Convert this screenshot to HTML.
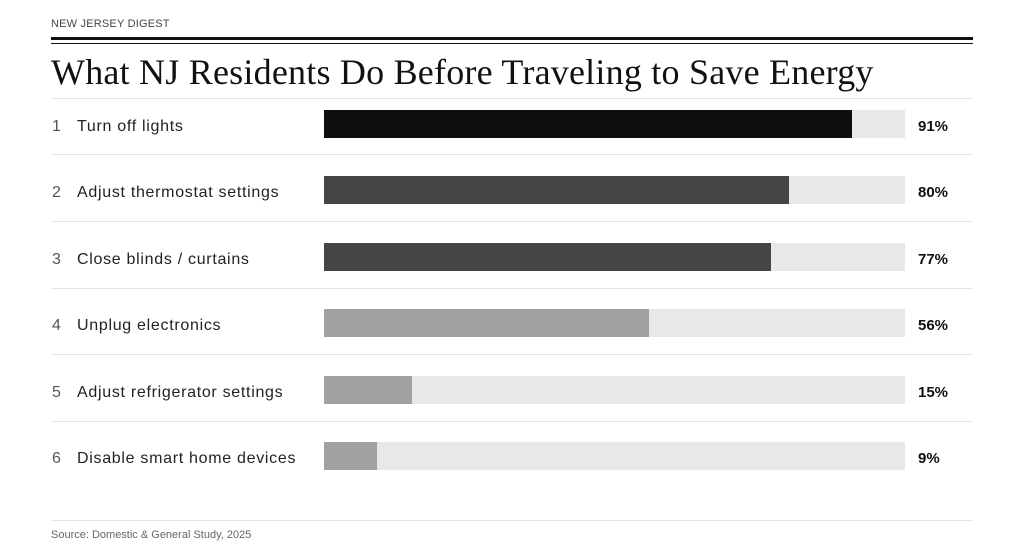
<!DOCTYPE html>
<html><head><meta charset="utf-8"><style>
body{margin:0;width:1024px;height:555px;background:#fff;position:relative;font-family:"Liberation Sans",sans-serif;overflow:hidden}
.a{position:absolute}
.hr{position:absolute;left:51px;width:922px;height:1px;background:#e4e4e4}
.num{position:absolute;left:52px;font-size:16px;color:#555}
.lab{position:absolute;left:77px;font-size:16px;color:#222;letter-spacing:0.7px}
.track{position:absolute;left:324px;width:581px;height:28px;background:#e8e8e8}
.fill{position:absolute;left:0;top:0;height:28px}
.val{position:absolute;left:918px;font-size:15px;font-weight:bold;color:#111}
</style></head><body>
<div class="a" style="left:51px;top:18px;font-size:11px;color:#444;letter-spacing:0.2px">NEW JERSEY DIGEST</div>
<div class="a" style="left:51px;top:37px;width:922px;height:3px;background:#111"></div>
<div class="a" style="left:51px;top:43px;width:922px;height:1px;background:#111"></div>
<div class="a" style="left:51px;top:51px;font-family:'Liberation Serif',serif;font-size:36px;letter-spacing:0.22px;color:#111;white-space:nowrap">What NJ Residents Do Before Traveling to Save Energy</div>
<div class="hr" style="top:98px"></div>

<div class="num" style="top:118px">1</div><div class="lab" style="top:118px">Turn off lights</div>
<div class="track" style="top:110px"><div class="fill" style="width:528px;background:#0e0e0e"></div></div>
<div class="val" style="top:118px">91%</div>
<div class="hr" style="top:154px"></div>

<div class="num" style="top:184px">2</div><div class="lab" style="top:184px">Adjust thermostat settings</div>
<div class="track" style="top:176px"><div class="fill" style="width:465px;background:#454545"></div></div>
<div class="val" style="top:184px">80%</div>
<div class="hr" style="top:221px"></div>

<div class="num" style="top:251px">3</div><div class="lab" style="top:251px">Close blinds / curtains</div>
<div class="track" style="top:243px"><div class="fill" style="width:447px;background:#454545"></div></div>
<div class="val" style="top:251px">77%</div>
<div class="hr" style="top:288px"></div>

<div class="num" style="top:317px">4</div><div class="lab" style="top:317px">Unplug electronics</div>
<div class="track" style="top:309px"><div class="fill" style="width:325px;background:#a0a0a0"></div></div>
<div class="val" style="top:317px">56%</div>
<div class="hr" style="top:354px"></div>

<div class="num" style="top:384px">5</div><div class="lab" style="top:384px">Adjust refrigerator settings</div>
<div class="track" style="top:376px"><div class="fill" style="width:88px;background:#a0a0a0"></div></div>
<div class="val" style="top:384px">15%</div>
<div class="hr" style="top:421px"></div>

<div class="num" style="top:450px">6</div><div class="lab" style="top:450px">Disable smart home devices</div>
<div class="track" style="top:442px"><div class="fill" style="width:53px;background:#a0a0a0"></div></div>
<div class="val" style="top:450px">9%</div>

<div class="hr" style="top:520px"></div>
<div class="a" style="left:51px;top:529px;font-size:11px;color:#666">Source: Domestic &amp; General Study, 2025</div>
</body></html>
